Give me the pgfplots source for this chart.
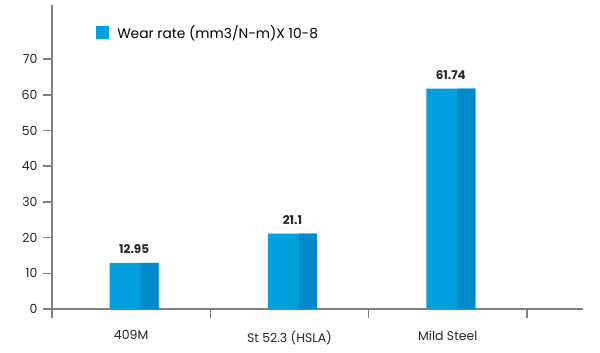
\documentclass[border=0pt]{standalone}
\usepackage{pgfplots}
\pgfplotsset{compat=1.18}
\usepackage{fontspec}
\setmainfont{Poppins}
\definecolor{lightb}{HTML}{009FDF}
\definecolor{darkb}{HTML}{0089CB}
\definecolor{axgray}{HTML}{7F7F7F}
\begin{document}
\begin{tikzpicture}
\useasboundingbox (0,0) rectangle (600pt,353pt);
\begin{axis}[
  at={(52pt,44pt)}, anchor=south west,
  scale only axis, width=531pt, height=304pt,
  xmin=-0.5, xmax=2.854, ymin=0, ymax=85.2,
  axis lines=left,
  axis line style={-, draw=axgray, line width=1.6pt},
  tick style={draw=axgray, line width=1.6pt},
  tick align=outside,
  ytick={0,10,...,70},
  major tick length=9pt,
  xtick={-0.5,0.5,1.5,2.5},
  xticklabels={},
  extra x ticks={0,1,2},
  extra x tick labels={409M, St 52.3 (HSLA), Mild Steel},
  extra x tick style={major tick length=0pt, tick label style={yshift=-18pt}},
  tick label style={font=\fontsize{12.5}{14}\selectfont, text=black!85},
  yticklabel style={xshift=-2pt},
  /pgf/number format/assume math mode=true,
  ybar, bar width=49pt,
  nodes near coords,
  every node near coord/.append style={font=\fontsize{12}{14}\selectfont\bfseries, text=black!85, yshift=6pt},
  point meta=explicit symbolic,
  legend style={draw=none, at={(axis description cs:0.083,0.91)}, anchor=west, font=\fontsize{13.8}{16}\selectfont, inner sep=0pt},
  legend image code/.code={\fill[lightb] (0pt,-6.5pt) rectangle (12.5pt,6pt); \path (19pt,0pt);},
]
\addplot[fill=lightb, draw=none, bar shift=3pt] coordinates {(0,12.95)[12.95] (1,21.1)[21.1] (2,61.74)[61.74]};
\addlegendentry{Wear rate (mm3/N-m)X 10-8}
\addplot[fill=darkb, draw=none, bar width=18pt, bar shift=18.5pt, nodes near coords={}] coordinates {(0,12.95) (1,21.1) (2,61.74)};
\end{axis}
\end{tikzpicture}
\end{document}
